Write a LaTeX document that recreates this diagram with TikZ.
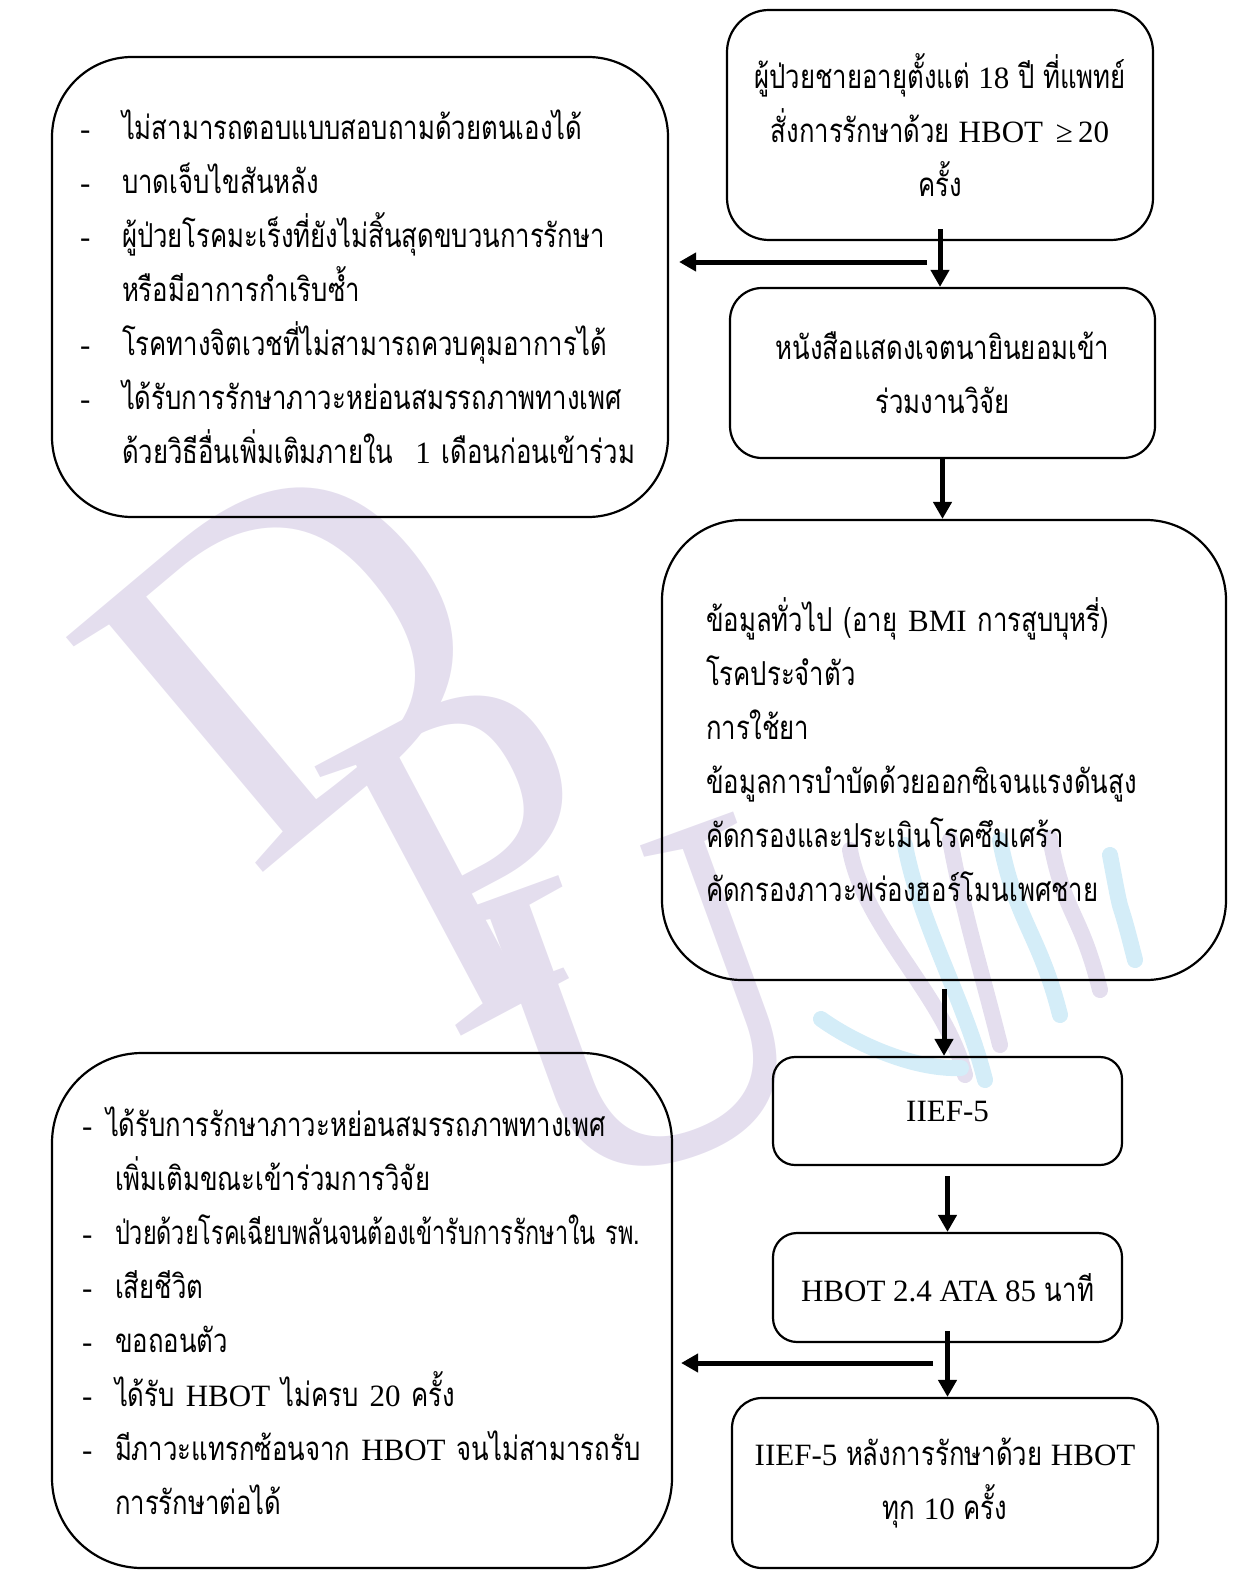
\documentclass[tikz,border=0pt]{standalone}
\usepackage{fontspec}
\usepackage{graphicx}
\setmainfont{Liberation Serif}
\newfontfamily\thaifont[Script=Thai,FakeStretch=0.78]{Loma}
\usepackage{tikz}
\usetikzlibrary{arrows.meta,positioning,calc}
\definecolor{ink}{HTML}{000000}
\definecolor{lavender}{HTML}{E4DEEE}
\definecolor{skyband}{HTML}{D4EDF8}
\newcommand{\lat}[1]{{\rmfamily\fontsize{31}{54}\selectfont #1}}
\newcommand{\itm}[2][42pt]{\mbox{\makebox[#1][l]{\lat{-}}#2}}
\newcommand{\cont}[2][42pt]{\mbox{\hspace*{#1}#2}}
\tikzset{box/.style={draw=ink,line width=2.2pt,align=center,inner sep=0pt,font=\thaifont\fontsize{33}{54}\selectfont},listbox/.style={box,align=left},flow/.style={-{Triangle[length=17pt,width=18pt]},line width=5pt,draw=ink},wmark/.style={text=lavender,inner sep=0pt,font=\rmfamily\fontsize{468}{468}\selectfont},wband/.style={line width=16pt,line cap=round,draw=#1}}

\begin{document}
\begin{tikzpicture}[x=1pt,y=-1pt]
\useasboundingbox (0,0) rectangle (1232,1570);
\node[wmark,rotate=40,xscale=1.05] (wd) at (290,650) {D};
\node[wmark,rotate=28,xscale=0.95] (wp) at (485,850) {P};
\node[wmark,rotate=20,xscale=0.95] (wu) at (645,1010) {U};
\foreach \c/\xa/\ya/\xb/\yb in {lavender/850/850/965/1075,skyband/905/845/985/1080,lavender/950/840/1000/1045,skyband/1000/840/1060/1015,lavender/1050/838/1100/990,skyband/1110/855/1135/960}
  \draw[wband=\c] (\xa,\ya) .. controls (\xa+15,\ya+80) and (\xb-20,\yb-80) .. (\xb,\yb);
\draw[wband=skyband] (821,1019) .. controls (850,1040) and (910,1070) .. (961,1068);

\node[box,rounded corners=42pt,minimum width=426pt,minimum height=230pt] (start) at (940,125)
  {ผู้ป่วยชายอายุตั้งแต่ \lat{18} ปี ที่แพทย์\\สั่งการรักษาด้วย \lat{HBOT \,≥\,20}\\ครั้ง};
\node[listbox,rounded corners=80pt,inner xsep=28pt,text width=560pt,minimum height=460pt] (excl1) at (360,287)
  {\itm{ไม่สามารถตอบแบบสอบถามด้วยตนเองได้}\\
   \itm{บาดเจ็บไขสันหลัง}\\
   \itm{ผู้ป่วยโรคมะเร็งที่ยังไม่สิ้นสุดขบวนการรักษา}\\
   \cont{หรือมีอาการกำเริบซ้ำ}\\
   \itm{โรคทางจิตเวชที่ไม่สามารถควบคุมอาการได้}\\
   \itm{ได้รับการรักษาภาวะหย่อนสมรรถภาพทางเพศ}\\
   \cont{ด้วยวิธีอื่นเพิ่มเติมภายใน\ \ \lat{1} เดือนก่อนเข้าร่วม}};
\node[box,rounded corners=32pt,minimum width=425pt,minimum height=170pt] (consent) at (942.5,373)
  {หนังสือแสดงเจตนายินยอมเข้า\\ร่วมงานวิจัย};
\node[listbox,rounded corners=80pt,inner xsep=44pt,text width=476pt,minimum height=460pt] (data) at (944,750)
  {\mbox{ข้อมูลทั่วไป (อายุ \lat{BMI} การสูบบุหรี่)}\\
   โรคประจำตัว\\
   การใช้ยา\\
   \mbox{ข้อมูลการบำบัดด้วยออกซิเจนแรงดันสูง}\\
   คัดกรองและประเมินโรคซึมเศร้า\\
   คัดกรองภาวะพร่องฮอร์โมนเพศชาย};
\node[box,rounded corners=22pt,minimum width=349pt,minimum height=108pt] (iief) at (947.5,1111) {\lat{IIEF-5}};
\node[box,rounded corners=24pt,minimum width=349pt,minimum height=109pt] (hbot) at (947.5,1287.5) {\lat{HBOT 2.4 ATA 85} นาที};
\node[box,rounded corners=30pt,minimum width=426pt,minimum height=170pt] (final) at (945,1483)
  {\lat{IIEF-5} หลังการรักษาด้วย \lat{HBOT}\\ทุก \lat{10} ครั้ง};
\node[listbox,rounded corners=90pt,inner xsep=30pt,text width=560pt,minimum height=515pt] (excl2) at (362,1310.5)
  {\itm[24pt]{ได้รับการรักษาภาวะหย่อนสมรรถภาพทางเพศ}\\
   \cont[33pt]{เพิ่มเติมขณะเข้าร่วมการวิจัย}\\
   \itm[33pt]{\scalebox{0.91}[1]{ป่วยด้วยโรคเฉียบพลันจนต้องเข้ารับการรักษาใน รพ.}}\\
   \itm[33pt]{เสียชีวิต}\\
   \itm[33pt]{ขอถอนตัว}\\
   \itm[33pt]{ได้รับ \lat{HBOT} ไม่ครบ \lat{20} ครั้ง}\\
   \itm[33pt]{มีภาวะแทรกซ้อนจาก \lat{HBOT} จนไม่สามารถรับ}\\
   \cont[33pt]{การรักษาต่อได้}};

\foreach \a/\b/\s in {start/consent/-12pt,consent/data/0pt,data/iief/8pt,iief/hbot/10pt,hbot/final/-12pt}
  \draw[flow,shorten <=\s] (\a.south) -- (\a.south |- \b.north);
\coordinate (split1) at (927,262);
\coordinate (split2) at (933,1363);
\draw[flow,shorten >=10pt] (split1) -- (excl1.east |- split1);
\draw[flow,shorten >=8pt] (split2) -- (excl2.east |- split2);
\end{tikzpicture}
\end{document}
